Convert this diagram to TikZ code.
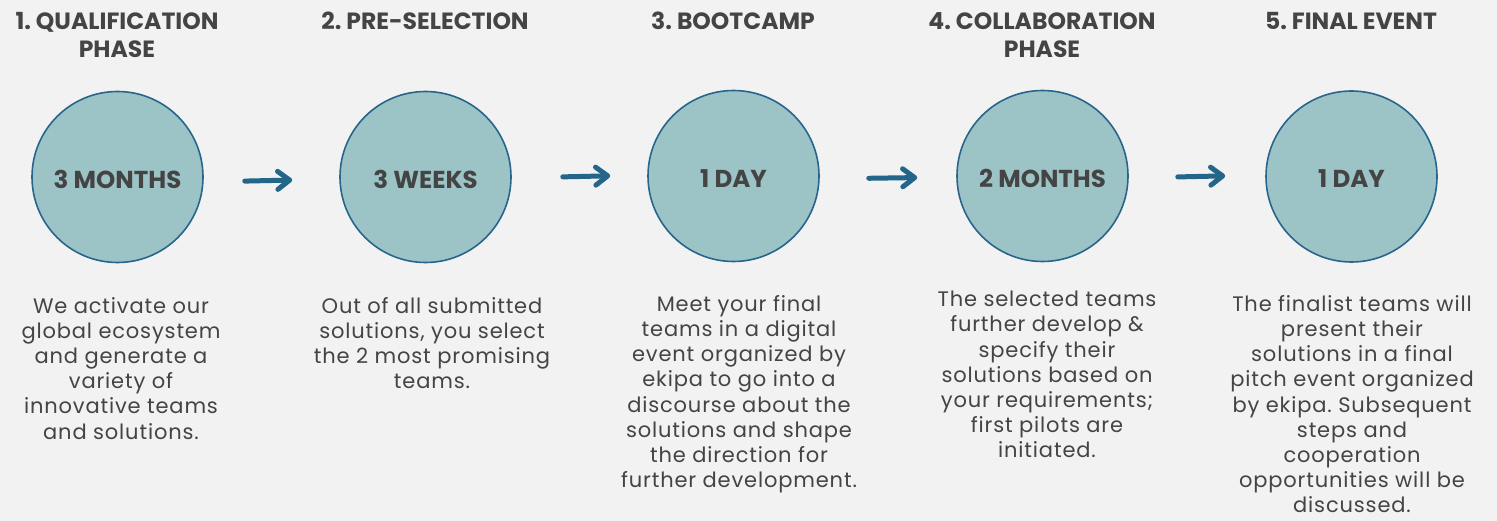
\documentclass[tikz,border=0pt]{standalone}
\usepackage{fontspec}
\setmainfont{Poppins}
\newfontfamily\bodyfont{Poppins}[LetterSpace=4]
\usetikzlibrary{arrows.meta,calc}
\frenchspacing
\definecolor{bg}{HTML}{F2F2F2}
\definecolor{circfill}{HTML}{9CC4C6}
\definecolor{circline}{HTML}{27658C}
\definecolor{arrowcol}{HTML}{23668A}
\definecolor{txt}{HTML}{444444}
\tikzset{
  title/.style={text=txt, align=center, inner sep=0pt, anchor=north, font=\fontsize{23.5}{28}\selectfont\bfseries\frenchspacing},
  phase/.style={circle, draw=circline, line width=1.6pt, fill=circfill, minimum size=171pt, inner sep=0pt, text=txt, text height=23pt, text depth=0pt, font=\fontsize{24.5}{28}\selectfont\bfseries},
  body/.style={text=txt, align=center, inner sep=0pt, anchor=north, font=\fontsize{21}{25.2}\bodyfont\frenchspacing},
  arr/.style={draw=arrowcol, line width=5pt, line cap=round, -{Straight Barb[length=12pt,width=18pt,round]}},
}
\begin{document}
\begin{tikzpicture}[x=1pt,y=-1pt]
\fill[bg] (0,0) rectangle (1497,521);
\useasboundingbox (0,0) rectangle (1497,521);
% titles
\node[title] (t1) at (117,12) {1. QUALIFICATION\\PHASE};
\node[title] (t2) at (425,12) {2. PRE-SELECTION};
\node[title] (t3) at (733,12) {3. BOOTCAMP};
\node[title] (t4) at (1042,12) {4. COLLABORATION\\PHASE};
\node[title] (t5) at (1351,12) {5. FINAL EVENT};
% circles
\node[phase] (c1) at (117.5,177) {3 MONTHS};
\node[phase] (c2) at (425.5,177) {3 WEEKS};
\node[phase] (c3) at (733.5,176) {1 DAY};
\node[phase] (c4) at (1042.5,176) {2 MONTHS};
\node[phase] (c5) at (1351.5,176.5) {1 DAY};
% arrows
\draw[arr, shorten <=41pt, shorten >=47pt] ([yshift=-5pt]c1.east) -- ([yshift=-2pt]c2.west);
\draw[arr, shorten <=51pt, shorten >=37pt] ([yshift=-1pt]c2.east) -- ([yshift=1pt]c3.west);
\draw[arr, shorten <=49pt, shorten >=39pt] ([yshift=-3pt]c3.east) -- ([yshift=-1pt]c4.west);
\draw[arr, shorten <=49pt, shorten >=40pt] ([yshift=-2pt]c4.east) -- ([yshift=1.5pt]c5.west);
% descriptions
\node[body] (d1) at (121,297) {We activate our\\global ecosystem\\and generate a\\variety of\\innovative teams\\and solutions.};
\node[body] (d2) at (432,297) {Out of all submitted\\solutions, you select\\the 2 most promising\\teams.};
\node[body] (d3) at (739,295) {Meet your final\\teams in a digital\\event organized by\\ekipa to go into a\\discourse about the\\solutions and shape\\the direction for\\further development.};
\node[body] (d4) at (1047,291) {The selected teams\\further develop \&\\specify their\\solutions based on\\your requirements;\\first pilots are\\initiated.};
\node[body] (d5) at (1352,295) {The finalist teams will\\present their\\solutions in a final\\pitch event organized\\by ekipa. Subsequent\\steps and\\cooperation\\opportunities will be\\discussed.};
\end{tikzpicture}
\end{document}
